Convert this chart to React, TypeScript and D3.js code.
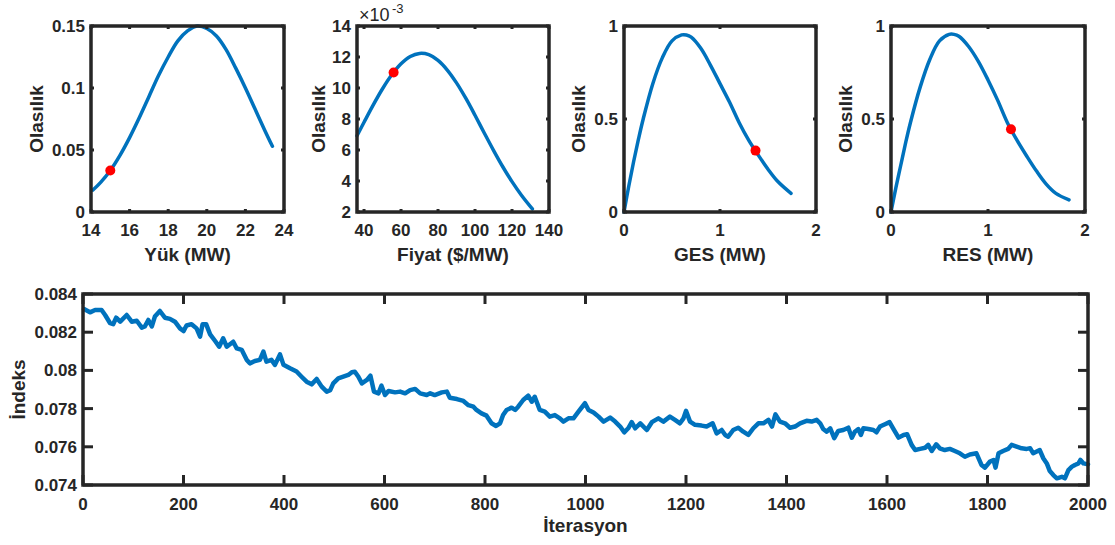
import { scaleLinear, line, curveCatmullRom, curveLinear } from "d3"

const AXIS = "#262626"
const BLUE = "#0072BD"
const FONT = "'Liberation Sans', Arial, Helvetica, sans-serif"

// --- Yük (load) ---
const loadX = [14.1, 14.5, 15, 15.5, 16, 16.5, 17, 17.5, 18, 18.5, 19, 19.5, 20, 20.5, 21, 21.5, 22, 22.5, 23, 23.4]
const loadY = [0.0177, 0.0239, 0.0335, 0.0457, 0.06, 0.076, 0.093, 0.11, 0.125, 0.138, 0.146, 0.15, 0.148, 0.142, 0.131, 0.116, 0.1, 0.083, 0.066, 0.053]
const loadDot = [15, 0.0335]
const loadXTicks = [14, 16, 18, 20, 22, 24]
const loadYTicks = [0, 0.05, 0.1, 0.15]
const loadYLabels = ["0", "0.05", "0.1", "0.15"]

// --- Fiyat (price), y in 1e-3 ---
const priceX = [36.2, 40, 45, 50, 55, 60, 65, 70, 75, 80, 85, 90, 95, 100, 105, 110, 115, 120, 125, 131]
const priceY = [6.92, 7.79, 8.91, 9.95, 10.85, 11.56, 12.03, 12.23, 12.15, 11.78, 11.16, 10.33, 9.34, 8.24, 7.1, 5.98, 4.92, 3.96, 3.1, 2.2]
const priceDot = [56, 11.0]
const priceXTicks = [40, 60, 80, 100, 120, 140]
const priceYTicks = [2, 4, 6, 8, 10, 12, 14]

// --- GES ---
const gesX = [0, 0.05, 0.1, 0.15, 0.2, 0.3, 0.4, 0.5, 0.6, 0.65, 0.7, 0.8, 0.9, 1.0, 1.1, 1.2, 1.3, 1.4, 1.5, 1.6, 1.74]
const gesY = [0, 0.14, 0.27, 0.39, 0.5, 0.69, 0.83, 0.92, 0.952, 0.952, 0.94, 0.88, 0.79, 0.69, 0.59, 0.48, 0.385, 0.305, 0.23, 0.165, 0.1]
const gesDot = [1.37, 0.33]

// --- RES ---
const resX = [0, 0.05, 0.1, 0.15, 0.2, 0.3, 0.4, 0.5, 0.6, 0.65, 0.7, 0.8, 0.9, 1.0, 1.1, 1.2, 1.3, 1.4, 1.5, 1.6, 1.7, 1.835]
const resY = [0, 0.13, 0.25, 0.37, 0.48, 0.67, 0.82, 0.92, 0.955, 0.955, 0.945, 0.89, 0.81, 0.71, 0.6, 0.48, 0.385, 0.3, 0.22, 0.15, 0.1, 0.065]
const resDot = [1.237, 0.445]
const unitXTicks = [0, 1, 2]
const unitYTicks = [0, 0.5, 1]
const unitYLabels = ["0", "0.5", "1"]

// --- İndeks vs İterasyon ---
const iterX = [
  2, 14, 24, 37, 44, 54, 60, 66, 74, 87, 97, 107, 117, 123, 130, 137, 143, 153, 163, 173,
  183, 193, 200, 206, 216, 226, 233, 238, 245, 253, 263, 271, 279, 286, 299, 306, 316, 326, 332, 342,
  352, 359, 365, 375, 382, 392, 399, 412, 425, 435, 445, 455, 465, 475, 485, 492, 498, 508, 518, 528,
  535, 541, 548, 555, 565, 572, 579, 588, 594, 601, 608, 621, 631, 641, 651, 661, 671, 684, 691, 700,
  714, 724, 730, 744, 757, 767, 777, 783, 793, 803, 813, 822, 830, 836, 843, 853, 860, 866, 876, 886,
  893, 899, 909, 919, 929, 939, 949, 956, 966, 976, 986, 999, 1006, 1016, 1026, 1036, 1049, 1059, 1069, 1077,
  1085, 1092, 1099, 1109, 1122, 1132, 1145, 1155, 1168, 1178, 1188, 1195, 1200, 1208, 1218, 1231, 1241, 1253, 1261, 1271,
  1278, 1284, 1294, 1304, 1314, 1324, 1334, 1344, 1354, 1364, 1371, 1378, 1387, 1397, 1407, 1417, 1427, 1440, 1450, 1460,
  1467, 1473, 1480, 1487, 1495, 1503, 1513, 1523, 1530, 1536, 1543, 1548, 1553, 1563, 1573, 1579, 1586, 1596, 1605, 1613,
  1623, 1633, 1640, 1649, 1656, 1666, 1676, 1682, 1689, 1698, 1705, 1715, 1725, 1735, 1745, 1755, 1765, 1778, 1788, 1795,
  1805, 1812, 1816, 1822, 1831, 1841, 1848, 1858, 1868, 1878, 1885, 1891, 1898, 1904, 1911, 1918, 1924, 1931, 1938, 1948,
  1954, 1961, 1968, 1974, 1981, 1985, 1991, 2000,
]
const indexY = [
  0.08321, 0.08304, 0.08316, 0.08316, 0.0829, 0.08247, 0.08242, 0.08276, 0.08255, 0.0829, 0.08255, 0.0826, 0.08224, 0.0823, 0.08264, 0.0823, 0.08282, 0.08311, 0.08276, 0.0827,
  0.08255, 0.0822, 0.08206, 0.08235, 0.08242, 0.0822, 0.08177, 0.08242, 0.08242, 0.08189, 0.08154, 0.08124, 0.08168, 0.08124, 0.0815, 0.08115, 0.08107, 0.08055, 0.08037, 0.08049,
  0.08055, 0.08098, 0.08046, 0.08055, 0.08029, 0.08084, 0.08029, 0.08011, 0.07994, 0.07967, 0.07941, 0.07927, 0.07955, 0.07915, 0.07889, 0.07897, 0.07932, 0.07958, 0.07967, 0.07976,
  0.0799, 0.07993, 0.07967, 0.07932, 0.0795, 0.07972, 0.07889, 0.0788, 0.0792, 0.07871, 0.07892, 0.07885, 0.07889, 0.0788, 0.07897, 0.07903, 0.0788, 0.07871, 0.0788, 0.07871,
  0.07885, 0.07889, 0.07857, 0.0785, 0.0784, 0.07818, 0.0781, 0.07793, 0.07775, 0.07763, 0.07723, 0.07709, 0.07723, 0.07766, 0.07793, 0.07805, 0.07793, 0.0781, 0.07845, 0.07868,
  0.07836, 0.07862, 0.07793, 0.07784, 0.07758, 0.07766, 0.07749, 0.07732, 0.07749, 0.07749, 0.07784, 0.07828, 0.07793, 0.0778, 0.07758, 0.07732, 0.07753, 0.07732, 0.07706, 0.07676,
  0.07697, 0.07729, 0.07697, 0.07723, 0.07688, 0.07729, 0.07749, 0.07732, 0.07758, 0.07741, 0.07723, 0.07749, 0.07788, 0.07732, 0.07715, 0.07711, 0.07706, 0.07723, 0.0767, 0.07688,
  0.07662, 0.07653, 0.07688, 0.077, 0.07679, 0.07662, 0.07697, 0.07723, 0.07723, 0.07741, 0.07706, 0.0777, 0.07732, 0.07723, 0.077, 0.07706, 0.07723, 0.07736, 0.07732, 0.07741,
  0.07723, 0.07693, 0.07679, 0.07697, 0.07645, 0.07683, 0.07688, 0.077, 0.07648, 0.07679, 0.07693, 0.07662, 0.07697, 0.07693, 0.07688, 0.07676, 0.07706, 0.07718, 0.07729, 0.07693,
  0.07648, 0.07662, 0.07666, 0.0761, 0.07583, 0.07589, 0.07595, 0.0761, 0.07578, 0.07613, 0.07592, 0.07583, 0.07589, 0.07578, 0.07566, 0.07548, 0.0756, 0.07566, 0.07505, 0.07491,
  0.07523, 0.07531, 0.07491, 0.07566, 0.07578, 0.07589, 0.0761, 0.07601, 0.07592, 0.07589, 0.07592, 0.07566, 0.07575, 0.07583, 0.0754, 0.07513, 0.07473, 0.07452, 0.07435, 0.07443,
  0.07435, 0.07478, 0.07496, 0.07505, 0.07513, 0.07531, 0.07513, 0.07508,
]
const iterXTicks = [0, 200, 400, 600, 800, 1000, 1200, 1400, 1600, 1800, 2000]
const indexYTicks = [0.074, 0.076, 0.078, 0.08, 0.082, 0.084]
const indexYLabels = ["0.074", "0.076", "0.078", "0.08", "0.082", "0.084"]

type PanelProps = {
  left: number
  top: number
  right: number
  bottom: number
  xDomain: number[]
  yDomain: number[]
  xs: number[]
  ys: number[]
  dot?: number[]
  xTicks: number[]
  xLabels?: string[]
  yTicks: number[]
  yLabels?: string[]
  xTitle: string
  yTitle: string
  yTitleX: number
  xTitleY: number
  xTickY: number
  tickLen: number
  lineWidth: number
  smooth: boolean
}

function Panel(p: PanelProps) {
  const xScale = scaleLinear().domain(p.xDomain).range([p.left, p.right])
  const yScale = scaleLinear().domain(p.yDomain).range([p.bottom, p.top])
  const path = line<number>()
    .x((d, i) => xScale(p.xs[i]))
    .y((d) => yScale(d))
    .curve(p.smooth ? curveCatmullRom : curveLinear)(p.ys)

  const xTickMarks = p.xTicks.map((v, i) => (
    <g key={"x" + i}>
      <line x1={xScale(v)} x2={xScale(v)} y1={p.bottom} y2={p.bottom - p.tickLen} stroke={AXIS} strokeWidth={3} />
      <line x1={xScale(v)} x2={xScale(v)} y1={p.top} y2={p.top + p.tickLen} stroke={AXIS} strokeWidth={3} />
      <text x={xScale(v)} y={p.xTickY} textAnchor="middle" fontSize={17} fontWeight="bold" fill={AXIS}>
        {p.xLabels ? p.xLabels[i] : String(v)}
      </text>
    </g>
  ))
  const yTickMarks = p.yTicks.map((v, i) => (
    <g key={"y" + i}>
      <line x1={p.left} x2={p.left + p.tickLen} y1={yScale(v)} y2={yScale(v)} stroke={AXIS} strokeWidth={3} />
      <line x1={p.right} x2={p.right - p.tickLen} y1={yScale(v)} y2={yScale(v)} stroke={AXIS} strokeWidth={3} />
      <text x={p.left - 6} y={yScale(v) + 6} textAnchor="end" fontSize={17} fontWeight="bold" fill={AXIS}>
        {p.yLabels ? p.yLabels[i] : String(v)}
      </text>
    </g>
  ))
  const cy = (p.top + p.bottom) / 2
  return (
    <g>
      <path d={path ?? ""} fill="none" stroke={BLUE} strokeWidth={p.lineWidth} strokeLinejoin="round" strokeLinecap="round" />
      {p.dot && <circle cx={xScale(p.dot[0])} cy={yScale(p.dot[1])} r={5} fill="#FF0000" />}
      {xTickMarks}
      {yTickMarks}
      <rect x={p.left} y={p.top} width={p.right - p.left} height={p.bottom - p.top} fill="none" stroke={AXIS} strokeWidth={3.5} />
      <text x={(p.left + p.right) / 2} y={p.xTitleY} textAnchor="middle" fontSize={19} fontWeight="bold" fill={AXIS}>
        {p.xTitle}
      </text>
      <text
        transform={`translate(${p.yTitleX},${cy}) rotate(-90)`}
        textAnchor="middle"
        fontSize={19}
        fontWeight="bold"
        fill={AXIS}
      >
        {p.yTitle}
      </text>
    </g>
  )
}

export default function App() {
  const top = { top: 26, bottom: 212, xTitleY: 261, xTickY: 236, tickLen: 3, lineWidth: 3.5, smooth: true }
  return (
    <div style={{ position: "absolute", left: 0, top: 0, width: 1115, height: 545, background: "#fff" }}>
      <svg width={1115} height={545} style={{ fontFamily: FONT, display: "block" }}>
        <rect width={1115} height={545} fill="#fff" />
        <Panel {...top} left={91} right={284} xDomain={[14, 24]} yDomain={[0, 0.15]}
          xs={loadX} ys={loadY} dot={loadDot} xTicks={loadXTicks} yTicks={loadYTicks} yLabels={loadYLabels}
          xTitle="Yük (MW)" yTitle="Olasılık" yTitleX={43} />
        <Panel {...top} left={357} right={549} xDomain={[36.2, 140]} yDomain={[2, 14]}
          xs={priceX} ys={priceY} dot={priceDot} xTicks={priceXTicks} yTicks={priceYTicks}
          xTitle="Fiyat ($/MW)" yTitle="Olasılık" yTitleX={325} />
        <text x={359} y={21} fontSize={18} fill={AXIS}>×10</text>
        <text x={392} y={13} fontSize={13} fill={AXIS}>-3</text>
        <Panel {...top} left={624} right={816} xDomain={[0, 2]} yDomain={[0, 1]}
          xs={gesX} ys={gesY} dot={gesDot} xTicks={unitXTicks} yTicks={unitYTicks} yLabels={unitYLabels}
          xTitle="GES (MW)" yTitle="Olasılık" yTitleX={585} />
        <Panel {...top} left={891} right={1085} xDomain={[0, 2]} yDomain={[0, 1]}
          xs={resX} ys={resY} dot={resDot} xTicks={unitXTicks} yTicks={unitYTicks} yLabels={unitYLabels}
          xTitle="RES (MW)" yTitle="Olasılık" yTitleX={852} />
        <Panel left={83} right={1088} top={294} bottom={485} xDomain={[0, 2000]} yDomain={[0.074, 0.084]}
          xs={iterX} ys={indexY} xTicks={iterXTicks} yTicks={indexYTicks} yLabels={indexYLabels}
          xTitle="İterasyon" yTitle="İndeks" yTitleX={25} xTitleY={532} xTickY={510}
          tickLen={10} lineWidth={4.5} smooth={false} />
      </svg>
    </div>
  )
}
